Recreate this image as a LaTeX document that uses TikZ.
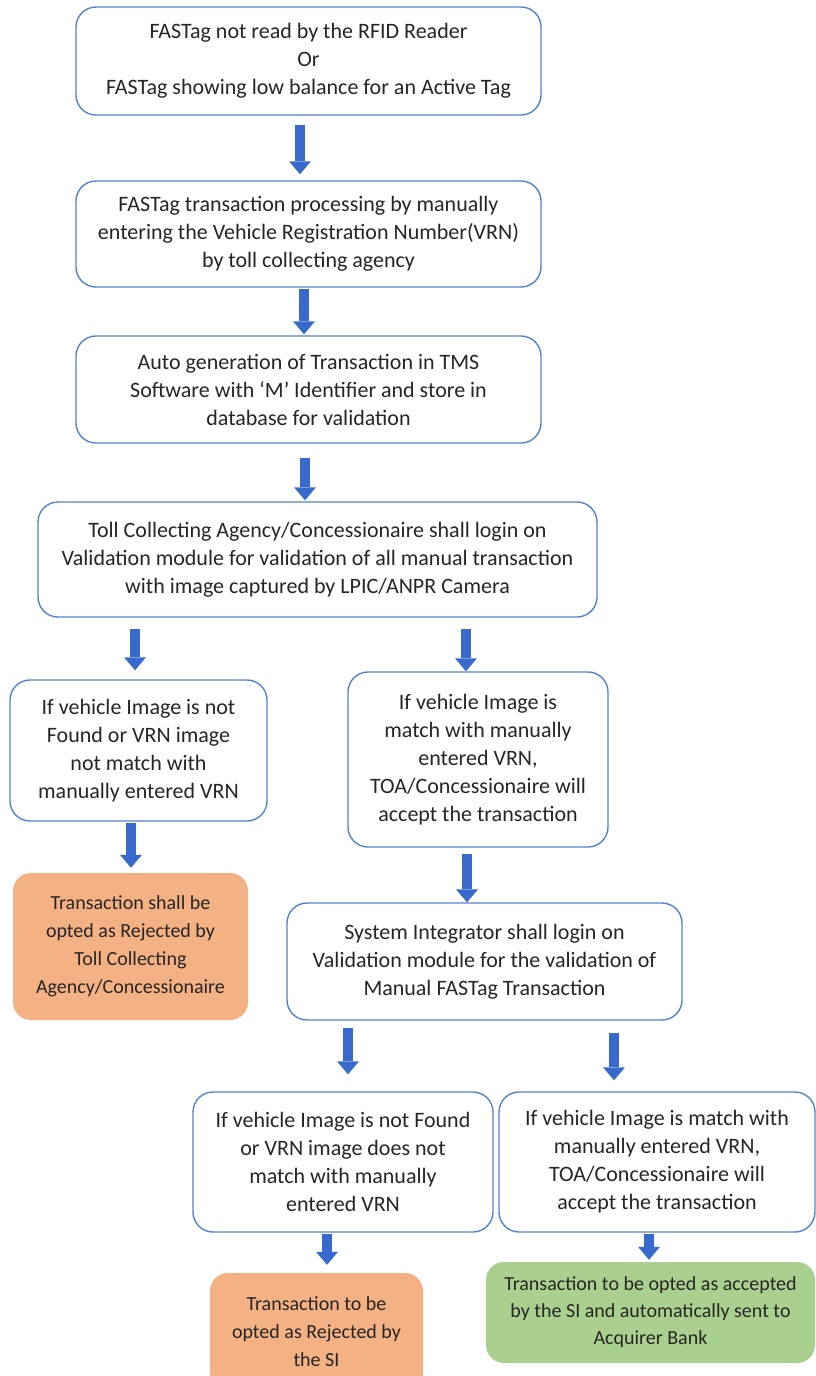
\documentclass[tikz,border=0pt]{standalone}
\usepackage{fontspec}
\setmainfont{Carlito}
\usetikzlibrary{arrows.meta}
\definecolor{boxblue}{RGB}{84,130,206}
\definecolor{arrowblue}{RGB}{55,106,204}
\definecolor{rejectfill}{RGB}{244,177,131}
\definecolor{acceptfill}{RGB}{169,208,142}
\definecolor{txt}{RGB}{38,38,38}
\tikzset{
  box/.style={draw=boxblue, line width=1.4pt, rounded corners=20pt, fill=white,
    align=center, inner sep=2pt, text=txt, font=\fontsize{22}{28}\selectfont},
  rejbox/.style={fill=rejectfill, rounded corners=18pt, align=center, text=txt,
    inner sep=2pt, font=\fontsize{20}{28}\selectfont},
  accbox/.style={fill=acceptfill, rounded corners=18pt, align=center, text=txt,
    inner sep=2pt, font=\fontsize{20}{27}\selectfont},
  arr/.style={draw=arrowblue, line width=10pt,
    -{Triangle[width=22pt,length=13pt,line width=0pt]}},
}
\begin{document}
\begin{tikzpicture}[x=1pt,y=-1pt]
\useasboundingbox (0,0) rectangle (816,1376);
\clip (0,0) rectangle (816,1376);
\fill[white] (0,0) rectangle (816,1376);

\node[box, minimum width=465pt, minimum height=108pt] (b1) at (308.5,61)
  {FASTag not read by the RFID Reader\\Or\\FASTag showing low balance for an Active Tag};
\node[box, minimum width=465pt, minimum height=106pt] (b2) at (308.5,234)
  {FASTag transaction processing by manually\\entering the Vehicle Registration Number(VRN)\\by toll collecting agency};
\node[box, minimum width=465pt, minimum height=107pt] (b3) at (308.5,389.5)
  {Auto generation of Transaction in TMS\\Software with ‘M’ Identifier and store in\\database for validation};
\node[box, minimum width=559pt, minimum height=115pt] (b4) at (317.5,559.5)
  {Toll Collecting Agency/Concessionaire shall login on\\Validation module for validation of all manual transaction\\with image captured by LPIC/ANPR Camera};
\node[box, minimum width=257pt, minimum height=141pt] (b5) at (138.5,750.5)
  {If vehicle Image is not\\Found or VRN image\\not match with\\manually entered VRN};
\node[box, minimum width=260pt, minimum height=175pt] (b6) at (478,759.5)
  {If vehicle Image is\\match with manually\\entered VRN,\\TOA/Concessionaire will\\accept the transaction};
\node[rejbox, minimum width=235pt, minimum height=147pt] (b7) at (130.5,946.5)
  {Transaction shall be\\opted as Rejected by\\Toll Collecting\\Agency/Concessionaire};
\node[box, minimum width=395pt, minimum height=117pt] (b8) at (484.5,961.5)
  {System Integrator shall login on\\Validation module for the validation of\\Manual FASTag Transaction};
\node[box, minimum width=300pt, minimum height=140pt] (b9) at (343,1162)
  {If vehicle Image is not Found\\or VRN image does not\\match with manually\\entered VRN};
\node[box, minimum width=316pt, minimum height=140pt] (b10) at (657,1162)
  {If vehicle Image is match with\\manually entered VRN,\\TOA/Concessionaire will\\accept the transaction};
\node[rejbox, minimum width=213pt, minimum height=117pt] (b11) at (316.5,1331.5)
  {Transaction to be\\opted as Rejected by\\the SI};
\node[accbox, minimum width=329pt, minimum height=101pt] (b12) at (650.5,1312.5)
  {Transaction to be opted as accepted\\by the SI and automatically sent to\\Acquirer Bank};

\draw[arr] ([xshift=-8.5pt,yshift=-9pt]b1.south) -- ([xshift=-8.5pt,yshift=6pt]b2.north);
\draw[arr] ([xshift=-4.5pt,yshift=-1pt]b2.south) -- ([xshift=-4.5pt,yshift=1pt]b3.north);
\draw[arr] ([xshift=-3.5pt,yshift=-14pt]b3.south) -- ([xshift=-12.5pt,yshift=1pt]b4.north);
\draw[arr] ([xshift=-182.5pt,yshift=-11pt]b4.south) -- ([xshift=-3.5pt,yshift=9pt]b5.north);
\draw[arr] ([xshift=148.5pt,yshift=-11pt]b4.south) -- ([xshift=-12pt,yshift=0pt]b6.north);
\draw[arr] ([xshift=-7.5pt,yshift=-1pt]b5.south) -- ([xshift=0.5pt,yshift=5pt]b7.north);
\draw[arr] ([xshift=-11pt,yshift=-6pt]b6.south) -- ([xshift=-17.5pt,yshift=0pt]b8.north);
\draw[arr] ([xshift=-136.5pt,yshift=-7pt]b8.south) -- ([xshift=5pt,yshift=17pt]b9.north);
\draw[arr] ([xshift=129.5pt,yshift=-12pt]b8.south) -- ([xshift=-43pt,yshift=11pt]b10.north);
\draw[arr] ([xshift=-16pt,yshift=-1pt]b9.south) -- ([xshift=10.5pt,yshift=8pt]b11.north);
\draw[arr] ([xshift=-8pt,yshift=-1pt]b10.south) -- ([xshift=-1.5pt,yshift=2pt]b12.north);
\end{tikzpicture}
\end{document}
